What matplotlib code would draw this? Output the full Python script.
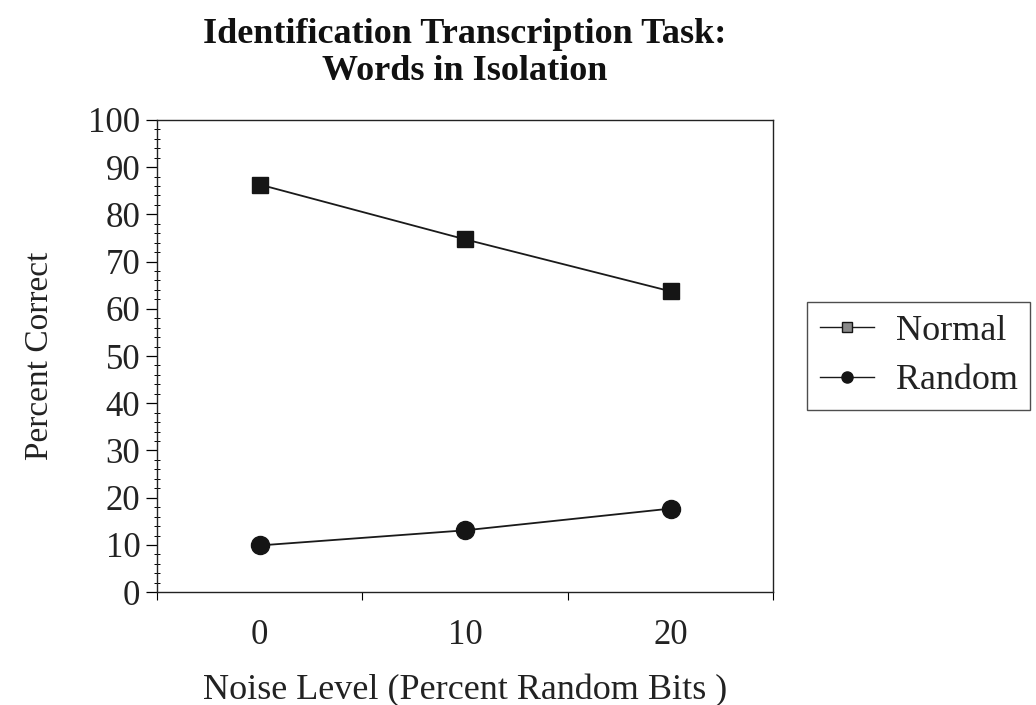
import matplotlib
matplotlib.use("Agg")
import matplotlib.pyplot as plt
from matplotlib.lines import Line2D
from matplotlib.ticker import MultipleLocator, FixedLocator

# data
noise_levels = ["0", "10", "20"]
normal_pct = [86.3, 74.7, 63.7]
random_pct = [9.9, 13.1, 17.7]

plt.rcParams['font.family'] = ['Liberation Serif', 'DejaVu Serif']

fig = plt.figure(figsize=(10.36, 7.05), dpi=100)
ax = fig.add_axes([0.1515, 0.160, 0.595, 0.670])

xs = list(range(len(noise_levels)))
ax.plot(xs, normal_pct, color='#1a1a1a', lw=1.3, marker='s', ms=12,
        mfc='#151515', mec='#151515')
ax.plot(xs, random_pct, color='#1a1a1a', lw=1.3, marker='o', ms=13,
        mfc='#151515', mec='#151515')

ax.set_xlim(-0.5, 2.5)
ax.set_ylim(0, 100)

# x ticks sit between categories, labels under the points
ax.xaxis.set_major_locator(FixedLocator([-0.5, 0.5, 1.5, 2.5]))
ax.set_xticklabels([])
ax.xaxis.set_minor_locator(FixedLocator(xs))
ax.set_xticklabels(noise_levels, minor=True)
ax.tick_params(axis='x', which='major', direction='out', length=6, width=0.8)
ax.tick_params(axis='x', which='minor', length=0, labelsize=25, pad=19,
               labelcolor='#222222')

ax.yaxis.set_major_locator(MultipleLocator(10))
ax.yaxis.set_minor_locator(MultipleLocator(2))
ax.tick_params(axis='y', which='major', direction='out', length=8, width=0.9,
               labelsize=25, pad=4, labelcolor='#222222')
ax.tick_params(axis='y', which='minor', direction='inout', length=5, width=0.7)

for sp in ax.spines.values():
    sp.set_linewidth(1.0)
    sp.set_color('#222222')

ax.set_xlabel('Noise Level (Percent Random Bits )', fontsize=26, labelpad=16,
              color='#222222')
ax.set_ylabel('Percent Correct', fontsize=24, labelpad=24, color='#222222')
ax.set_title('Identification Transcription Task:\nWords in Isolation',
             fontsize=26, fontweight='bold', pad=29, color='#111111',
             linespacing=1.15)

# legend: small markers, the square one is lighter in the middle
handles = [
    Line2D([], [], color='#1a1a1a', lw=1.0, marker='s', ms=7,
           mfc='#8a8a8a', mec='#151515', label='Normal'),
    Line2D([], [], color='#1a1a1a', lw=1.0, marker='o', ms=8,
           mfc='#151515', mec='#151515', label='Random'),
]
leg = fig.legend(handles=handles, loc='upper left',
                 bbox_to_anchor=(0.779, 0.572), borderaxespad=0,
                 fontsize=26, frameon=True, fancybox=False,
                 edgecolor='#222222', handlelength=1.5, handletextpad=0.6,
                 labelspacing=0.45, borderpad=0.35)
leg.get_frame().set_linewidth(1.0)
for t in leg.get_texts():
    t.set_color('#222222')

fig.savefig('out.png', dpi=100)
